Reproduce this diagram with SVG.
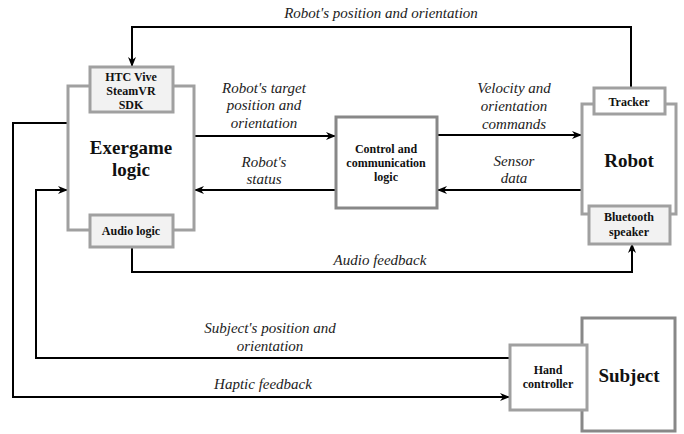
<svg xmlns="http://www.w3.org/2000/svg" width="684" height="434" viewBox="0 0 684 434">
<defs>
<marker id="ah" markerWidth="10" markerHeight="8" refX="9" refY="4" orient="auto" markerUnits="userSpaceOnUse">
<path d="M0,0 L10,4 L0,8 L3,4 Z" fill="#000"/>
</marker>
</defs>
<style>
text{font-family:'Liberation Serif','Times New Roman',Tinos,Times,serif}
.box{fill:#fff;stroke:#a0a0a0;stroke-width:3}
.sub{fill:#f2f2f2;stroke:#a0a0a0;stroke-width:3}
.ln{fill:none;stroke:#000;stroke-width:2}
.lb{font-style:italic;font-size:15px;text-anchor:middle;fill:#222}
.sm{font-weight:bold;font-size:12px;text-anchor:middle;fill:#111}
.bg{font-weight:bold;font-size:19px;text-anchor:middle;fill:#111}
</style>
<rect width="684" height="434" fill="#fff"/>
<g id="connectors">
<path class="ln" d="M631,87 V27 H132 V66" marker-end="url(#ah)"/>
<path class="ln" d="M194,136 H335" marker-end="url(#ah)"/>
<path class="ln" d="M336,190 H195" marker-end="url(#ah)"/>
<path class="ln" d="M437,135 H581" marker-end="url(#ah)"/>
<path class="ln" d="M582,190 H438" marker-end="url(#ah)"/>
<path class="ln" d="M132,247 V272 H632 V244" marker-end="url(#ah)"/>
<path class="ln" d="M510,358 H36 V190 H67" marker-end="url(#ah)"/>
<path class="ln" d="M68,123 H13 V397 H509" marker-end="url(#ah)"/>
</g>
<g id="labels">
<text class="lb" x="381" y="18">Robot's position and orientation</text>
<text class="lb" x="264" y="93">Robot's target</text>
<text class="lb" x="264" y="110">position and</text>
<text class="lb" x="264" y="128">orientation</text>
<text class="lb" x="264" y="167">Robot's</text>
<text class="lb" x="264" y="184">status</text>
<text class="lb" x="514" y="93">Velocity and</text>
<text class="lb" x="514" y="111">orientation</text>
<text class="lb" x="514" y="129">commands</text>
<text class="lb" x="514" y="166">Sensor</text>
<text class="lb" x="514" y="183">data</text>
<text class="lb" x="380" y="265">Audio feedback</text>
<text class="lb" x="270" y="333">Subject's position and</text>
<text class="lb" x="270" y="351">orientation</text>
<text class="lb" x="263" y="389">Haptic feedback</text>
</g>
<g id="exergame">
<rect class="box" x="68" y="86" width="126" height="144"/>
<text class="bg" x="131" y="154">Exergame</text>
<text class="bg" x="131" y="176">logic</text>
</g>
<g id="htc">
<rect class="sub" x="90" y="67" width="83" height="45"/>
<text class="sm" x="131" y="81">HTC Vive</text>
<text class="sm" x="131" y="95">SteamVR</text>
<text class="sm" x="131" y="109">SDK</text>
</g>
<g id="audio">
<rect class="sub" x="90" y="215" width="83" height="32"/>
<text class="sm" x="131" y="235">Audio logic</text>
</g>
<g id="control">
<rect class="box" x="336" y="117" width="101" height="91" style="stroke:#888"/>
<text class="sm" x="386" y="153">Control and</text>
<text class="sm" x="386" y="167">communication</text>
<text class="sm" x="386" y="181">logic</text>
</g>
<g id="robot">
<rect class="box" x="582" y="104" width="94" height="110"/>
<text class="bg" x="629" y="167">Robot</text>
</g>
<g id="tracker">
<rect class="sub" x="594" y="88" width="71" height="26" style="fill:#fff"/>
<text class="sm" x="629" y="106">Tracker</text>
</g>
<g id="bluetooth">
<rect class="sub" x="589" y="206" width="81" height="38"/>
<text class="sm" x="629" y="221">Bluetooth</text>
<text class="sm" x="629" y="236">speaker</text>
</g>
<g id="subject">
<rect class="box" x="582" y="318" width="93" height="113" style="stroke:#888"/>
<text class="bg" x="629" y="382">Subject</text>
</g>
<g id="hand">
<rect class="sub" x="510" y="345" width="77" height="65" style="fill:#fff"/>
<text class="sm" x="548" y="374">Hand</text>
<text class="sm" x="548" y="388">controller</text>
</g>
</svg>
